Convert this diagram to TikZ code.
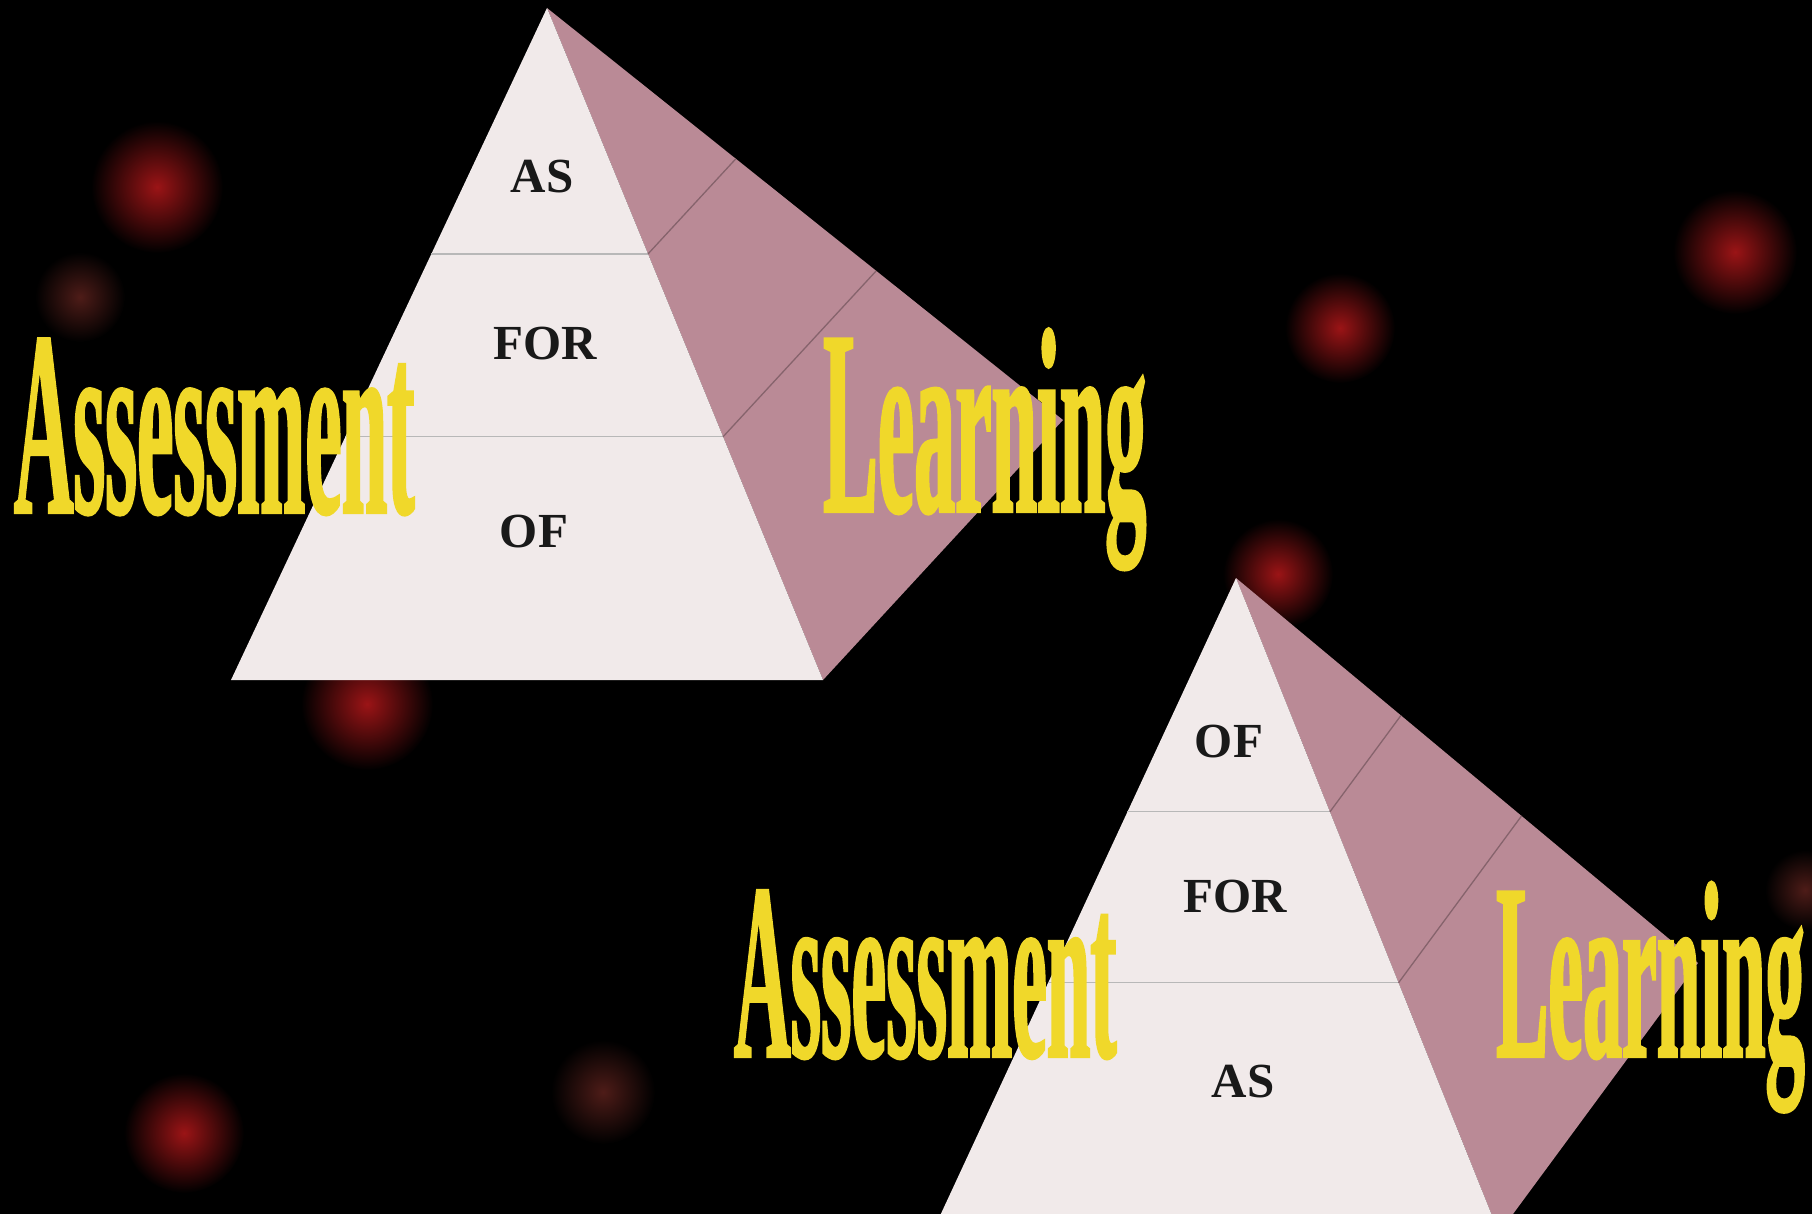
\documentclass[tikz,border=0pt]{standalone}
\usepackage{fontspec}
\setmainfont{Liberation Serif}
\newfontfamily\wordfont{Liberation Serif}[FakeStretch=0.309, FakeBold=0.8]
\usepackage{xcolor}
\usepackage{tikz}
\usetikzlibrary{calc}

\definecolor{facewhite}{RGB}{241,234,234}
\definecolor{facepink}{RGB}{186,138,150}
\definecolor{wordyellow}{RGB}{240,216,42}
\definecolor{glowred}{RGB}{155,20,22}
\definecolor{glowdim}{RGB}{78,28,24}

\begin{document}
\begin{tikzpicture}[
    x=1pt, y=-1pt,
    front/.style={fill=facewhite},
    side/.style={fill=facepink},
    divider/.style={draw=black!28, line width=1.3pt},
    sidedivider/.style={draw=facepink!72!black, line width=1.3pt},
    level/.style={font=\fontsize{49}{49}\selectfont\bfseries, text=black!90, inner sep=0pt},
    word/.style={text=wordyellow, inner sep=0pt, anchor=base west}
]
\useasboundingbox (0,0) rectangle (1812,1214);
\fill[black] (0,0) rectangle (1812,1214);
% red glows in the background
\foreach \gx/\gy/\gr/\gc in {157/187/66/glowred, 80/297/45/glowdim, 367/704/66/glowred,
    184/1133/60/glowred, 603/1092/52/glowdim, 1735/252/62/glowred, 1340/328/55/glowred,
    1278/574/55/glowred, 1805/890/40/glowdim}
    \shade[inner color=\gc, outer color=black] (\gx,\gy) circle (\gr pt);

% upper pyramid
\coordinate (A1) at (547,8);
\coordinate (L1) at (231,680);
\coordinate (B1) at (823,680);
\coordinate (R1) at (1063,420);
\fill[side] (A1) -- (B1) -- (R1) -- cycle;
\fill[front] (A1) -- (L1) -- (B1) -- cycle;
\foreach \f in {0.366,0.638} {
    \draw[divider] ($(A1)!\f!(L1)$) -- ($(A1)!\f!(B1)$);
    \draw[sidedivider] ($(A1)!\f!(B1)$) -- ($(A1)!\f!(R1)$);
}
\node[level] (as1) at (542,177) {AS};
\node[level] (for1) at (545,344) {FOR};
\node[level] (of1) at (534,532) {OF};

% lower pyramid
\coordinate (A2) at (1236,578);
\coordinate (L2) at (932,1233);
\coordinate (B2) at (1499,1233);
\coordinate (R2) at (1698,963);
\fill[side] (A2) -- (B2) -- (R2) -- cycle;
\fill[front] (A2) -- (L2) -- (B2) -- cycle;
\foreach \f in {0.357,0.618} {
    \draw[divider] ($(A2)!\f!(L2)$) -- ($(A2)!\f!(B2)$);
    \draw[sidedivider] ($(A2)!\f!(B2)$) -- ($(A2)!\f!(R2)$);
}
\node[level] (of2) at (1229,742) {OF};
\node[level] (for2) at (1235,897) {FOR};
\node[level] (as2) at (1243,1082) {AS};

% big words
\node[word, font=\wordfont\fontsize{265}{265}\selectfont\bfseries] (assess1) at (14,513) {Assessment};
\node[word, font=\wordfont\fontsize{265}{265}\selectfont\bfseries] (learn1) at (823,512) {Learning};
\node[word, font=\wordfont\fontsize{253}{253}\selectfont\bfseries] (assess2) at (734,1057) {Assessment};
\node[word, font=\wordfont\fontsize{253}{253}\selectfont\bfseries] (learn2) at (1496,1057) {Learning};
\end{tikzpicture}
\end{document}
